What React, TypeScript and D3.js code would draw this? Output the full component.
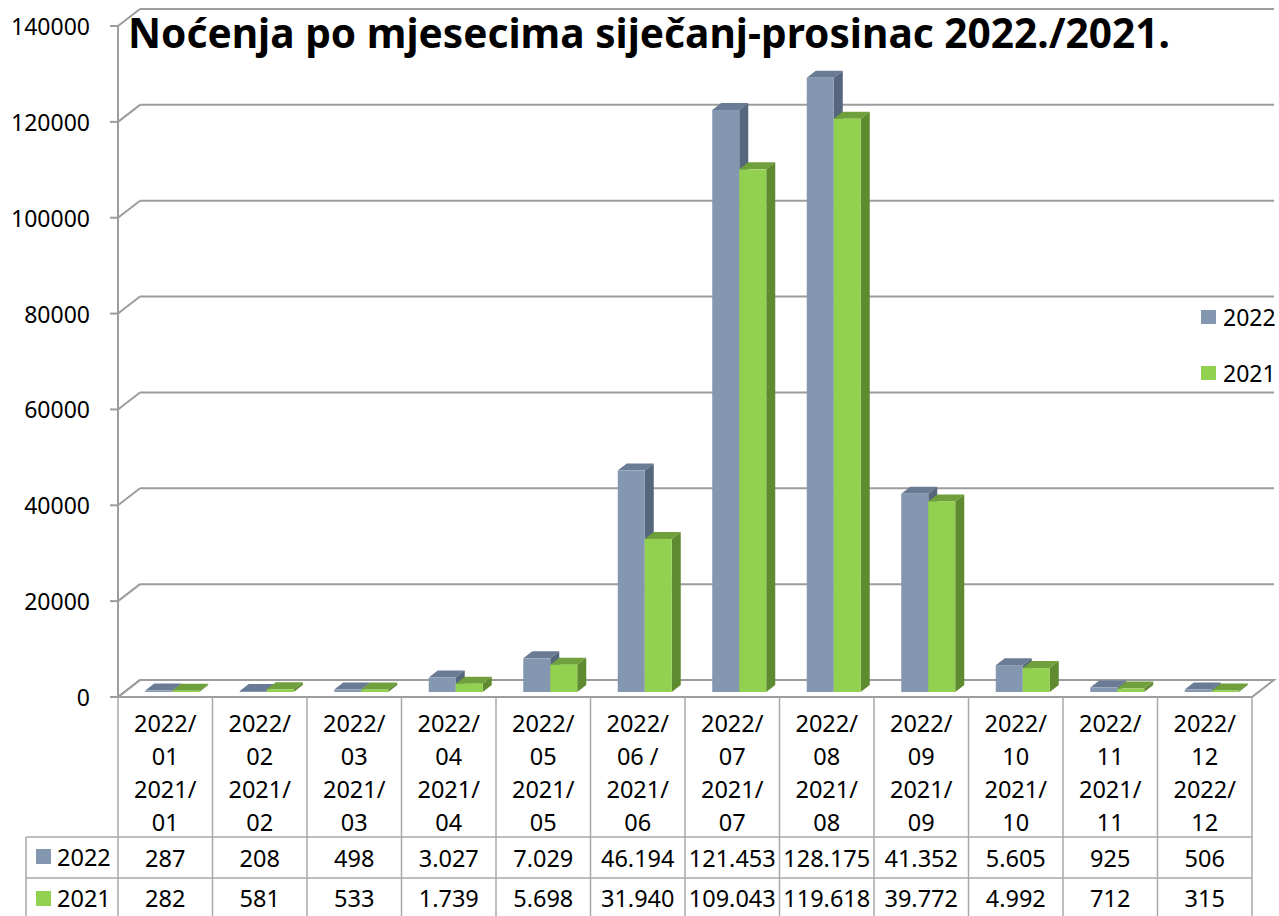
import React from "react";
import * as d3 from "d3";

const title = "Noćenja po mjesecima siječanj-prosinac 2022./2021.";
const categories: string[][] = [
  ["2022/", "01", "2021/", "01"],
  ["2022/", "02", "2021/", "02"],
  ["2022/", "03", "2021/", "03"],
  ["2022/", "04", "2021/", "04"],
  ["2022/", "05", "2021/", "05"],
  ["2022/", "06 /", "2021/", "06"],
  ["2022/", "07", "2021/", "07"],
  ["2022/", "08", "2021/", "08"],
  ["2022/", "09", "2021/", "09"],
  ["2022/", "10", "2021/", "10"],
  ["2022/", "11", "2021/", "11"],
  ["2022/", "12", "2022/", "12"],
];
const seriesNames = ["2022", "2021"];
const values2022 = [287, 208, 498, 3027, 7029, 46194, 121453, 128175, 41352, 5605, 925, 506];
const values2021 = [282, 581, 533, 1739, 5698, 31940, 109043, 119618, 39772, 4992, 712, 315];
const yTicks = [0, 20000, 40000, 60000, 80000, 100000, 120000, 140000];

const W = 1279;
const H = 916;
const FONT = "'Noto Sans', 'Open Sans', sans-serif";

const colors = {
  "2022": { front: "#8497b0", top: "#6a7c95", side: "#56667c" },
  "2021": { front: "#92d050", top: "#6fa03c", side: "#5e8a30" },
};

const fmt = d3.formatLocale({ decimal: ",", thousands: ".", grouping: [3], currency: ["", ""] }).format(",");

export default function App() {
  const x0 = 118, x1 = 1252;
  const y = d3.scaleLinear().domain([0, 140000]).range([697, 26]);
  const xb = d3.scaleBand<number>().domain(categories.map((_, i) => i)).range([x0, x1]).padding(0);
  const xs = d3.scaleBand<string>().domain(seriesNames).range([0, xb.bandwidth()]).paddingInner(0).paddingOuter(0.75);
  const wallDx = 22, wallDy = -17;
  const barOffX = 7, barOffY = -5;
  const bdx = 9, bdy = -7;
  const grid = "#9c9c9c";
  const tableLine = "#a8a8a8";

  const seriesData: Record<string, number[]> = { "2022": values2022, "2021": values2021 };

  const bars: React.ReactNode[] = [];
  categories.forEach((_, i) => {
    seriesNames.forEach((s) => {
      const v = seriesData[s][i];
      const xl = (xb(i) as number) + (xs(s) as number) + barOffX;
      const w = xs.bandwidth();
      const yt = y(v) + barOffY;
      const yb = y(0) + barOffY;
      const c = (colors as any)[s];
      bars.push(
        <g key={`${i}-${s}`}>
          <polygon
            points={`${xl},${yt} ${xl + w},${yt} ${xl + w + bdx},${yt + bdy} ${xl + bdx},${yt + bdy}`}
            fill={c.top}
          />
          <polygon
            points={`${xl + w},${yt} ${xl + w + bdx},${yt + bdy} ${xl + w + bdx},${yb + bdy} ${xl + w},${yb}`}
            fill={c.side}
          />
          <rect x={xl} y={yt} width={w} height={Math.max(0, yb - yt)} fill={c.front} />
        </g>
      );
    });
  });

  const rowTop = 697, rowHeader = 837, row1 = 878, row2 = 919;
  const legendLeft = 26;

  return (
    <svg width={W} height={H} style={{ position: "absolute", left: 0, top: 0, background: "#fff" }} fontFamily={FONT}>
      <rect x={0} y={0} width={W} height={H} fill="#fff" />
      {yTicks.map((t) => (
        <g key={t}>
          <line x1={x0 + wallDx} x2={x1 + wallDx} y1={y(t) + wallDy} y2={y(t) + wallDy} stroke={grid} strokeWidth={2} />
          <line x1={x0} x2={x0 + wallDx} y1={y(t)} y2={y(t) + wallDy} stroke={grid} strokeWidth={2} />
          <line x1={x0 - 8} x2={x0} y1={y(t)} y2={y(t)} stroke={grid} strokeWidth={2} />
          <text x={90} y={y(t)} textAnchor="end" dominantBaseline="central" fontSize={23} fill="#000">
            {t}
          </text>
        </g>
      ))}
      <line x1={x0} x2={x0} y1={y(140000)} y2={y(0)} stroke={grid} strokeWidth={2} />
      <polygon
        points={`${x0},${y(0)} ${x1},${y(0)} ${x1 + wallDx},${y(0) + wallDy} ${x0 + wallDx},${y(0) + wallDy}`}
        fill="none"
        stroke={grid}
        strokeWidth={2}
      />
      {bars}
      <text x={128} y={48} fontSize={42} fontWeight="bold" fill="#000" textLength={1042} lengthAdjust="spacingAndGlyphs">
        {title}
      </text>
      {seriesNames.map((s, k) => (
        <g key={s}>
          <rect x={1201} y={310 + k * 56} width={15} height={14} fill={(colors as any)[s].front} />
          <text x={1223} y={317 + k * 56} dominantBaseline="central" fontSize={23} fill="#000">
            {s}
          </text>
        </g>
      ))}
      {d3.range(categories.length + 1).map((i) => {
        const xx = i < categories.length ? (xb(i) as number) : x1;
        return <line key={`v${i}`} x1={xx} x2={xx} y1={rowTop} y2={row2} stroke={tableLine} strokeWidth={1.5} />;
      })}
      <line x1={legendLeft} x2={legendLeft} y1={rowHeader} y2={row2} stroke={tableLine} strokeWidth={1.5} />
      <line x1={legendLeft} x2={x1} y1={rowHeader} y2={rowHeader} stroke={tableLine} strokeWidth={1.5} />
      <line x1={legendLeft} x2={x1} y1={row1} y2={row1} stroke={tableLine} strokeWidth={1.5} />
      <line x1={legendLeft} x2={x1} y1={row2 - 1} y2={row2 - 1} stroke={tableLine} strokeWidth={1.5} />
      {categories.map((lines, i) => {
        const cx = (xb(i) as number) + xb.bandwidth() / 2;
        return (
          <g key={`c${i}`}>
            {lines.map((ln, j) => (
              <text key={j} x={cx} y={723 + j * 33} textAnchor="middle" dominantBaseline="central" fontSize={23.5} fill="#000">
                {ln}
              </text>
            ))}
            <text x={cx} y={(rowHeader + row1) / 2} textAnchor="middle" dominantBaseline="central" fontSize={23.5} fill="#000">
              {fmt(values2022[i])}
            </text>
            <text x={cx} y={(row1 + row2) / 2 - 1} textAnchor="middle" dominantBaseline="central" fontSize={23.5} fill="#000">
              {fmt(values2021[i])}
            </text>
          </g>
        );
      })}
      {seriesNames.map((s, k) => (
        <g key={`tl${s}`}>
          <rect x={36} y={849 + k * 42} width={15} height={15} fill={(colors as any)[s].front} />
          <text x={57} y={857 + k * 41} dominantBaseline="central" fontSize={23.5} fill="#000">
            {s}
          </text>
        </g>
      ))}
    </svg>
  );
}
